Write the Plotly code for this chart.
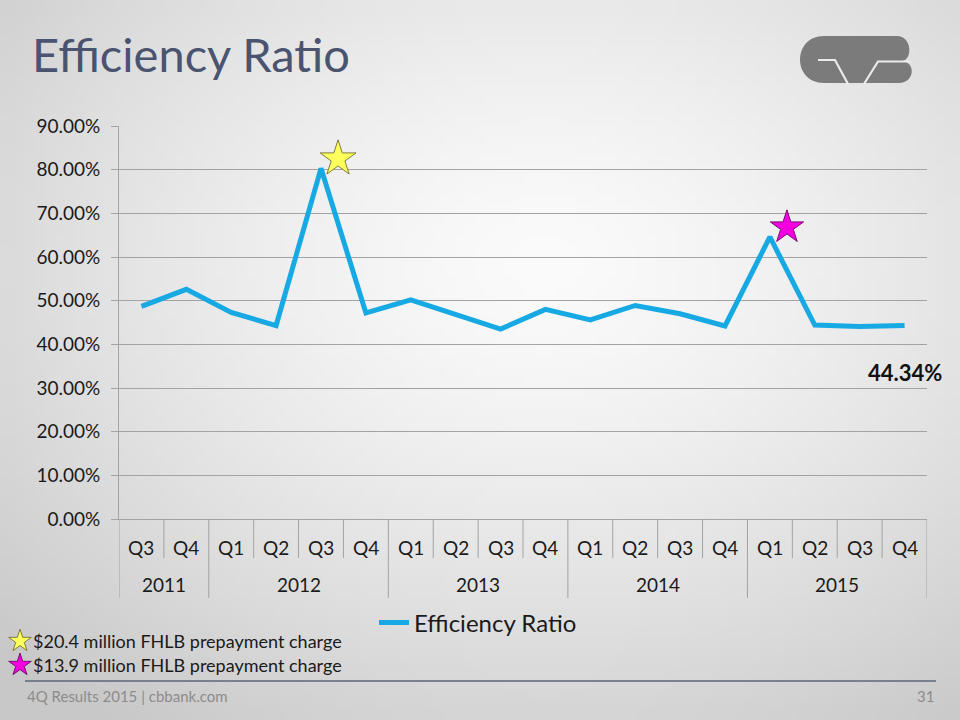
import base64, struct, zlib
import numpy as np
import plotly.graph_objects as go

# ---------------- data ----------------
quarters = ["Q3", "Q4", "Q1", "Q2", "Q3", "Q4", "Q1", "Q2", "Q3", "Q4",
            "Q1", "Q2", "Q3", "Q4", "Q1", "Q2", "Q3", "Q4"]
years = ["2011", "2011", "2012", "2012", "2012", "2012", "2013", "2013", "2013", "2013",
         "2014", "2014", "2014", "2014", "2015", "2015", "2015", "2015"]
efficiency_ratio = [48.7, 52.6, 47.3, 44.3, 80.3, 47.2, 50.2, 46.8, 43.5, 48.0,
                    45.6, 48.9, 47.0, 44.2, 64.6, 44.4, 44.1, 44.34]
y_ticks = [0, 10, 20, 30, 40, 50, 60, 70, 80, 90]
y_tick_labels = ["0.00%", "10.00%", "20.00%", "30.00%", "40.00%",
                 "50.00%", "60.00%", "70.00%", "80.00%", "90.00%"]
star_quarter_index = [4, 14]
star_colors = ["#ffff5c", "#f200e0"]
star_outline = ["#7d7d3a", "#7a1070"]
star_notes = ["$20.4 million FHLB prepayment charge", "$13.9 million FHLB prepayment charge"]
last_value_label = "44.34%"
series_name = "Efficiency Ratio"
title_text = "Efficiency Ratio"
footer_text = "4Q Results 2015 | cbbank.com"
page_number = "31"

W, H = 960, 720
FONT = "Lato"
LINE_BLUE = "#17a9e3"
GRID = "#a3a3a3"


def px(x):
    return x / W


def py(y):
    return 1 - y / H


# ---------------- background gradient image ----------------
def make_png(w, h):
    yy, xx = np.mgrid[0:h, 0:w]
    cx, cy = 0.56 * w, 0.36 * h
    d = np.sqrt(((xx - cx) / w) ** 2 + ((yy - cy) / h) ** 2) / 0.75
    v = np.clip(251 - 48 * d ** 1.4, 200, 255).astype(np.uint8)
    raw = b"".join(b"\x00" + bytes(np.repeat(v[r], 3)) for r in range(h))

    def chunk(tag, data):
        c = struct.pack(">I", len(data)) + tag + data
        return c + struct.pack(">I", zlib.crc32(tag + data) & 0xffffffff)

    png = b"\x89PNG\r\n\x1a\n"
    png += chunk(b"IHDR", struct.pack(">IIBBBBB", w, h, 8, 2, 0, 0, 0))
    png += chunk(b"IDAT", zlib.compress(raw, 9))
    png += chunk(b"IEND", b"")
    return "data:image/png;base64," + base64.b64encode(png).decode()


bg_src = make_png(96, 72)

x_idx = list(range(len(quarters)))

fig = go.Figure()

# main line
fig.add_trace(go.Scatter(
    x=x_idx, y=efficiency_ratio, mode="lines", name=series_name,
    line=dict(color=LINE_BLUE, width=5), xaxis="x", yaxis="y",
    hoverinfo="skip",
))

# callout stars near peaks
fig.add_trace(go.Scatter(
    x=[x_idx[i] + 0.38 for i in star_quarter_index],
    y=[efficiency_ratio[i] + 2.2 for i in star_quarter_index],
    mode="markers", showlegend=False, xaxis="x", yaxis="y", cliponaxis=False,
    opacity=1,
    marker=dict(symbol="star", size=[27, 25], color=star_colors, opacity=1,
                line=dict(color=star_outline, width=1)),
    hoverinfo="skip",
))

# note stars (icons at bottom-left) on a full-page overlay axis
fig.add_trace(go.Scatter(
    x=[20, 20], y=[641, 665], mode="markers", showlegend=False,
    xaxis="x2", yaxis="y2", cliponaxis=False, opacity=1,
    marker=dict(symbol="star", size=17, color=star_colors, opacity=1,
                line=dict(color=star_outline, width=1)),
    hoverinfo="skip",
))

shapes = []
# table dividers under the x axis
y_axis_px = 519
for i in range(len(quarters) + 1):
    xb = i - 0.5
    is_year_edge = (i == 0 or i == len(quarters) or years[i] != years[i - 1])
    shapes.append(dict(type="line", xref="x", yref="paper", x0=xb, x1=xb,
                       y0=py(y_axis_px), y1=py(598 if is_year_edge else 558),
                       line=dict(color=GRID, width=1), layer="above"))

# footer rule
shapes.append(dict(type="line", xref="paper", yref="paper", x0=px(25), x1=px(936),
                   y0=py(681), y1=py(681), line=dict(color="#5d6578", width=1.5)))

# logo (approximate CVB mark)
LOGO = "#7b7b7b"
logo_path = (
    f"M {px(824)},{py(36)} L {px(897)},{py(36)} "
    f"C {px(912)},{py(36)} {px(913)},{py(60)} {px(902)},{py(61)} "
    f"C {px(916)},{py(62)} {px(915)},{py(83)} {px(899)},{py(83)} "
    f"L {px(824)},{py(83)} "
    f"C {px(792)},{py(83)} {px(792)},{py(36)} {px(824)},{py(36)} Z"
)
shapes.append(dict(type="path", xref="paper", yref="paper", path=logo_path,
                   fillcolor=LOGO, line=dict(width=0)))
cut_bg = "#ebebeb"
cut1 = f"M {px(818)},{py(60)} L {px(835)},{py(60)} L {px(848)},{py(84)}"
cut2 = f"M {px(864)},{py(84)} L {px(878)},{py(61.5)} L {px(911)},{py(61.5)}"
for c in (cut1, cut2):
    shapes.append(dict(type="path", xref="paper", yref="paper", path=c,
                       line=dict(color=cut_bg, width=2.2)))

annotations = []
# quarter labels
for i, q in enumerate(quarters):
    annotations.append(dict(x=i, y=py(547), xref="x", yref="paper", text=q,
                            showarrow=False, font=dict(family=FONT, size=19, color="#1a1a1a"),
                            xanchor="center", yanchor="middle"))
# year labels
seen = []
for yv in years:
    if yv not in seen:
        seen.append(yv)
for yv in seen:
    idx = [i for i, v in enumerate(years) if v == yv]
    annotations.append(dict(x=sum(idx) / len(idx), y=py(584), xref="x", yref="paper",
                            text=yv, showarrow=False,
                            font=dict(family=FONT, size=19, color="#1a1a1a"),
                            xanchor="center", yanchor="middle"))
# last value label
annotations.append(dict(x=x_idx[-1], y=efficiency_ratio[-1], xref="x", yref="y",
                        text=f"<b>{last_value_label}</b>", showarrow=False, yshift=-47,
                        font=dict(family=FONT, size=22, color="#111111"),
                        xanchor="center", yanchor="middle"))
# title
annotations.append(dict(x=px(30), y=py(54), xref="paper", yref="paper", text=title_text,
                        showarrow=False, xanchor="left", yanchor="middle",
                        font=dict(family=FONT, size=47, color="#4a5470")))
# notes
for k, note in enumerate(star_notes):
    annotations.append(dict(x=px(31), y=py(641 + 24 * k), xref="paper", yref="paper",
                            text=note, showarrow=False, xanchor="left", yanchor="middle",
                            font=dict(family=FONT, size=18, color="#1a1a1a")))
# footer texts
annotations.append(dict(x=px(25), y=py(696), xref="paper", yref="paper", text=footer_text,
                        showarrow=False, xanchor="left", yanchor="middle",
                        font=dict(family=FONT, size=15, color="#8c8c8c")))
annotations.append(dict(x=px(936), y=py(696), xref="paper", yref="paper", text=page_number,
                        showarrow=False, xanchor="right", yanchor="middle",
                        font=dict(family=FONT, size=15, color="#8c8c8c")))

fig.update_layout(
    width=W, height=H,
    autosize=False,
    margin=dict(l=0, r=0, t=0, b=0, pad=0, autoexpand=False),
    paper_bgcolor="#e6e6e6",
    plot_bgcolor="rgba(0,0,0,0)",
    font=dict(family=FONT, color="#1a1a1a"),
    images=[dict(source=bg_src, xref="paper", yref="paper", x=0, y=1,
                 sizex=1, sizey=1, sizing="stretch", layer="below")],
    xaxis=dict(domain=[px(119), px(927)], range=[-0.5, len(quarters) - 0.5],
               showgrid=False, zeroline=False, showticklabels=False, ticks="",
               showline=True, linecolor=GRID, linewidth=1, fixedrange=True,
               automargin=False),
    yaxis=dict(domain=[py(519), py(126)], range=[0, 90], tickvals=y_ticks,
               ticktext=y_tick_labels, showgrid=True, gridcolor=GRID, gridwidth=1,
               zeroline=False, showline=True, linecolor=GRID, linewidth=1,
               ticks="outside", ticklen=7, tickcolor=GRID,
               ticklabelstandoff=7, automargin=False,
               tickfont=dict(family=FONT, size=19, color="#1a1a1a"), fixedrange=True),
    xaxis2=dict(domain=[0, 1], range=[0, W], visible=False, fixedrange=True,
                anchor="y2", automargin=False),
    yaxis2=dict(domain=[0, 1], range=[H, 0], visible=False, fixedrange=True,
                anchor="x2", automargin=False),
    showlegend=True,
    legend=dict(orientation="h", x=px(374), y=py(623), xanchor="left", yanchor="middle",
                bgcolor="rgba(0,0,0,0)", font=dict(family=FONT, size=24, color="#1a1a1a"),
                itemwidth=30),
    shapes=shapes,
    annotations=annotations,
)

fig.write_html(
    "out.html",
    config={"responsive": False, "displayModeBar": False},
    post_script="document.body.style.margin='0';document.body.style.overflow='hidden';",
)
